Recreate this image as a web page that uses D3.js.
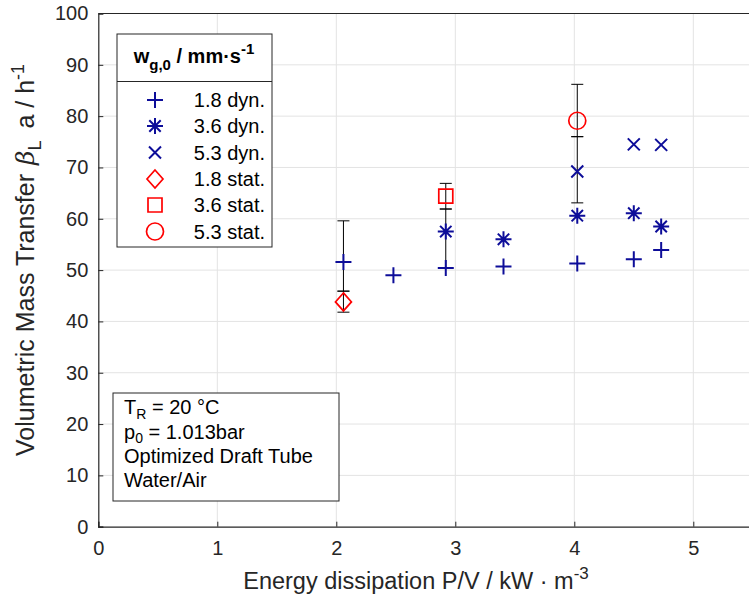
<!DOCTYPE html>
<html><head><meta charset="utf-8">
<script src="https://cdn.jsdelivr.net/npm/d3@7"></script>
<style>body{margin:0;background:#fff}svg{display:block}text{font-family:"Liberation Sans",Arial,sans-serif}</style>
</head><body>
<svg id="c" width="749" height="601"></svg>
<script>
// ---- data ----
const xTicks = [0,1,2,3,4,5];
const yTicks = [0,10,20,30,40,50,60,70,80,90,100];
const dyn18 = [[2.06,51.6],[2.48,49.0],[2.92,50.4],[3.405,50.7],[4.025,51.3],[4.5,52.1],[4.73,53.9]];
const dyn36 = [[2.92,57.5],[3.405,56.0],[4.025,60.6],[4.5,61.1],[4.73,58.5]];
const dyn53 = [[4.025,69.2],[4.5,74.5],[4.73,74.4]];
const stat18 = [[2.06,43.8]];
const stat36 = [[2.92,64.4]];
const stat53 = [[4.025,79.1]];
const errX  = [2.06, 2.06, 2.92, 2.92, 4.025, 4.025];
const errLo = [45.9, 41.8, 50.4, 61.9, 63.1, 76.0];
const errHi = [59.6, 45.9, 61.9, 66.9, 76.0, 86.2];
const legendLabels = ["1.8 dyn.","3.6 dyn.","5.3 dyn.","1.8 stat.","3.6 stat.","5.3 stat."];
const infoLines = ["T_R = 20 °C","p_0 = 1.013bar","Optimized Draft Tube","Water/Air"];

const svg = d3.select("#c");
const x = d3.scaleLinear().domain([0,5.5]).range([98.3, 752.8]);
const y = d3.scaleLinear().domain([0,100]).range([526.7, 13.5]);
const axisCol = "#262626";
const blue = "#0d0d99", red = "#ff0000";

// grid
svg.append("g").selectAll("line").data(xTicks.slice(1)).join("line")
  .attr("x1",d=>x(d)).attr("x2",d=>x(d)).attr("y1",y(0)).attr("y2",y(100))
  .attr("stroke","#e3e3e3").attr("stroke-width",1);
svg.append("g").selectAll("line").data(yTicks.slice(1,-1)).join("line")
  .attr("y1",d=>y(d)).attr("y2",d=>y(d)).attr("x1",x(0)).attr("x2",x(5.5))
  .attr("stroke","#e3e3e3").attr("stroke-width",1);

// axes
const xa = svg.append("g").attr("transform",`translate(0,${y(0)})`)
  .call(d3.axisBottom(x).tickValues(xTicks).tickSize(-5).tickPadding(14).tickFormat(d3.format("d")));
const ya = svg.append("g").attr("transform",`translate(${x(0)},0)`)
  .call(d3.axisLeft(y).tickValues(yTicks).tickSize(-5).tickPadding(10).tickFormat(d3.format("d")));
[xa,ya].forEach(a=>{
  a.select(".domain").attr("stroke",axisCol).attr("stroke-width",1.2);
  a.selectAll(".tick line").attr("stroke",axisCol);
  a.selectAll("text").attr("fill",axisCol).style("font-size","20px");
});
xa.selectAll("text").attr("dy","0.71em");
// top border
svg.append("line").attr("x1",x(0)).attr("x2",x(5.5)).attr("y1",y(100)).attr("y2",y(100))
  .attr("stroke",axisCol).attr("stroke-width",1.2);

// markers
function markerPath(type){
  const p = d3.path();
  if(type==="plus"||type==="star"){ p.moveTo(-8,0);p.lineTo(8,0);p.moveTo(0,-8);p.lineTo(0,8); }
  if(type==="star"){ p.moveTo(-5.7,-5.7);p.lineTo(5.7,5.7);p.moveTo(-5.7,5.7);p.lineTo(5.7,-5.7); }
  if(type==="cross"){ p.moveTo(-6,-6);p.lineTo(6,6);p.moveTo(-6,6);p.lineTo(6,-6); }
  if(type==="diamond"){ p.moveTo(0,-9);p.lineTo(8,0);p.lineTo(0,9);p.lineTo(-8,0);p.closePath(); }
  if(type==="square"){ p.rect(-7,-7,14,14); }
  if(type==="circle"){ p.moveTo(8.5,0);p.arc(0,0,8.5,0,2*Math.PI); }
  return p.toString();
}
const seriesDefs = [
  {data:dyn18,type:"plus",col:blue},
  {data:dyn36,type:"star",col:blue},
  {data:dyn53,type:"cross",col:blue},
  {data:stat18,type:"diamond",col:red},
  {data:stat36,type:"square",col:red},
  {data:stat53,type:"circle",col:red}
];

// error bars
const eb = svg.append("g").attr("stroke","#000").attr("stroke-width",1);
errX.forEach((ex,i)=>{
  const cx = x(ex);
  eb.append("line").attr("x1",cx).attr("x2",cx).attr("y1",y(errLo[i])).attr("y2",y(errHi[i]));
  [errLo[i],errHi[i]].forEach(v=>eb.append("line").attr("x1",cx-6).attr("x2",cx+6).attr("y1",y(v)).attr("y2",y(v)));
});

seriesDefs.forEach(s=>{
  svg.append("g").selectAll("path").data(s.data).join("path")
    .attr("transform",d=>`translate(${x(d[0])},${y(d[1])})`)
    .attr("d",markerPath(s.type)).attr("fill","none").attr("stroke",s.col)
    .attr("stroke-width",s.col===red?1.7:2);
});

// legend
const lg = svg.append("g");
lg.append("rect").attr("x",117).attr("y",34).attr("width",155).attr("height",213)
  .attr("fill","#fff").attr("stroke",axisCol).attr("stroke-width",1);
lg.append("line").attr("x1",117).attr("x2",272).attr("y1",81.5).attr("y2",81.5).attr("stroke",axisCol);
const ht = lg.append("text").attr("x",194).attr("y",63).attr("text-anchor","middle")
  .attr("font-weight","bold").style("font-size","20px").attr("fill","#000");
ht.append("tspan").text("w");
ht.append("tspan").attr("dy",7).style("font-size","15px").text("g,0");
ht.append("tspan").attr("dy",-7).text(" / mm·s");
ht.append("tspan").attr("dy",-9).style("font-size","15px").text("-1");
const rowY = [100,126,152.5,179,205,231.5];
seriesDefs.forEach((s,i)=>{
  lg.append("path").attr("transform",`translate(155,${rowY[i]})`).attr("d",markerPath(s.type))
    .attr("fill","none").attr("stroke",s.col).attr("stroke-width",s.col===red?1.7:2);
  lg.append("text").attr("x",265).attr("y",rowY[i]).attr("dy","0.36em").attr("text-anchor","end")
    .style("font-size","20px").attr("fill","#000").text(legendLabels[i]);
});

// info box
const ib = svg.append("g");
ib.append("rect").attr("x",113).attr("y",393).attr("width",226).attr("height",108)
  .attr("fill","#fff").attr("stroke",axisCol).attr("stroke-width",1);
const infoY = [414,438.5,463,487];
infoLines.forEach((ln,i)=>{
  const t = ib.append("text").attr("x",124).attr("y",infoY[i]).style("font-size","20px").attr("fill","#000");
  const m = ln.match(/^(\w)_(\w)(.*)$/);
  if(m){
    t.append("tspan").text(m[1]);
    t.append("tspan").attr("dy",4.5).style("font-size","14px").text(m[2]);
    t.append("tspan").attr("dy",-4.5).text(m[3]);
  } else t.text(ln);
});

// axis labels
const xl = svg.append("text").attr("x",416).attr("y",589).attr("text-anchor","middle")
  .style("font-size","23.5px").attr("fill",axisCol);
xl.append("tspan").text("Energy dissipation P/V / kW · m");
xl.append("tspan").attr("dy",-10).style("font-size","17px").text("-3");

const yl = svg.append("text").attr("transform","translate(34,456) rotate(-90)").attr("text-anchor","start")
  .style("font-size","25px").attr("fill",axisCol);
yl.append("tspan").text("Volumetric Mass Transfer");
yl.append("tspan").attr("dx",9).style("font-style","italic").style("font-family","'DejaVu Serif',serif").text("β");
yl.append("tspan").attr("dy",7).style("font-size","18px").text("L");
yl.append("tspan").attr("dy",-7).attr("dx",5).text(" a / h");
yl.append("tspan").attr("dy",-10).style("font-size","18px").text("-1");
</script>
</body></html>
